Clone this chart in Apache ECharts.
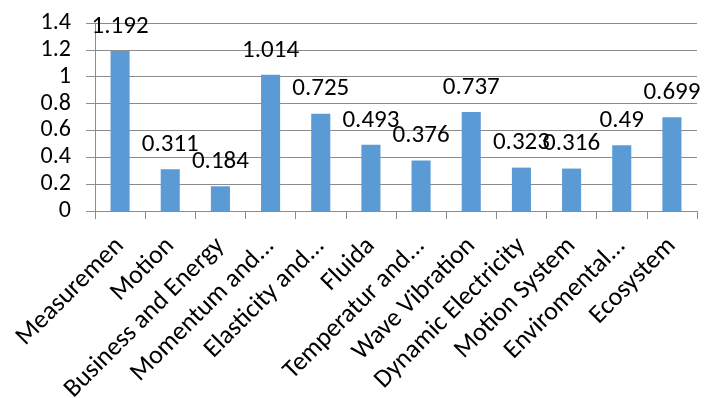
<!DOCTYPE html>
<html>
<head>
<meta charset="utf-8">
<script src="https://cdn.jsdelivr.net/npm/echarts@6/dist/echarts.min.js"></script>
<style>
  html, body { margin: 0; padding: 0; background: #fff; }
  #chart { width: 704px; height: 398px; }
</style>
</head>
<body>
<div id="chart"></div>
<script>
// categories as shown on the axis (long names are cut off in the original)
const categories = [
  'Measuremen', 'Motion', 'Business and Energy', 'Momentum and...',
  'Elasticity and...', 'Fluida', 'Temperatur and...', 'Wave Vibration',
  'Dynamic Electricity', 'Motion System', 'Enviromental...', 'Ecosystem'
]
const values = [1.192, 0.311, 0.184, 1.014, 0.725, 0.493, 0.376, 0.737, 0.323, 0.316, 0.49, 0.699]
const yTicks = [0, 0.2, 0.4, 0.6, 0.8, 1, 1.2, 1.4]

const font = 'Carlito, Lato, "Liberation Sans", sans-serif'
const lineColor = '#8c8c8c'

const chart = echarts.init(document.getElementById('chart'))

const option = {
  animation: false,
  grid: { left: 95, right: 7, top: 23, bottom: 187, outerBoundsMode: 'none', containLabel: false },
  xAxis: {
    type: 'category',
    data: categories,
    axisLine: { lineStyle: { color: lineColor, width: 1 } },
    axisTick: { show: true, length: 8, lineStyle: { color: lineColor } },
    axisLabel: {
      rotate: 45,
      interval: 0,
      margin: 31,
      color: '#000',
      fontSize: 26,
      fontFamily: font
    }
  },
  yAxis: {
    type: 'value',
    min: yTicks[0],
    max: yTicks[yTicks.length - 1],
    interval: 0.2,
    axisLine: { show: true, lineStyle: { color: lineColor, width: 1 } },
    axisTick: { show: true, length: 9, lineStyle: { color: lineColor } },
    splitLine: { lineStyle: { color: lineColor, width: 1 } },
    axisLabel: {
      margin: 24,
      color: '#000',
      fontSize: 24,
      fontFamily: font,
      formatter: function (v) { return String(Math.round(v * 10) / 10) }
    }
  },
  series: [
    {
      type: 'bar',
      data: values,
      barWidth: '38%',
      itemStyle: { color: '#5b9bd5' },
      label: {
        show: true,
        position: 'top',
        distance: 12,
        color: '#000',
        fontSize: 25,
        fontFamily: font
      }
    }
  ]
}

chart.setOption(option)
</script>
</body>
</html>
